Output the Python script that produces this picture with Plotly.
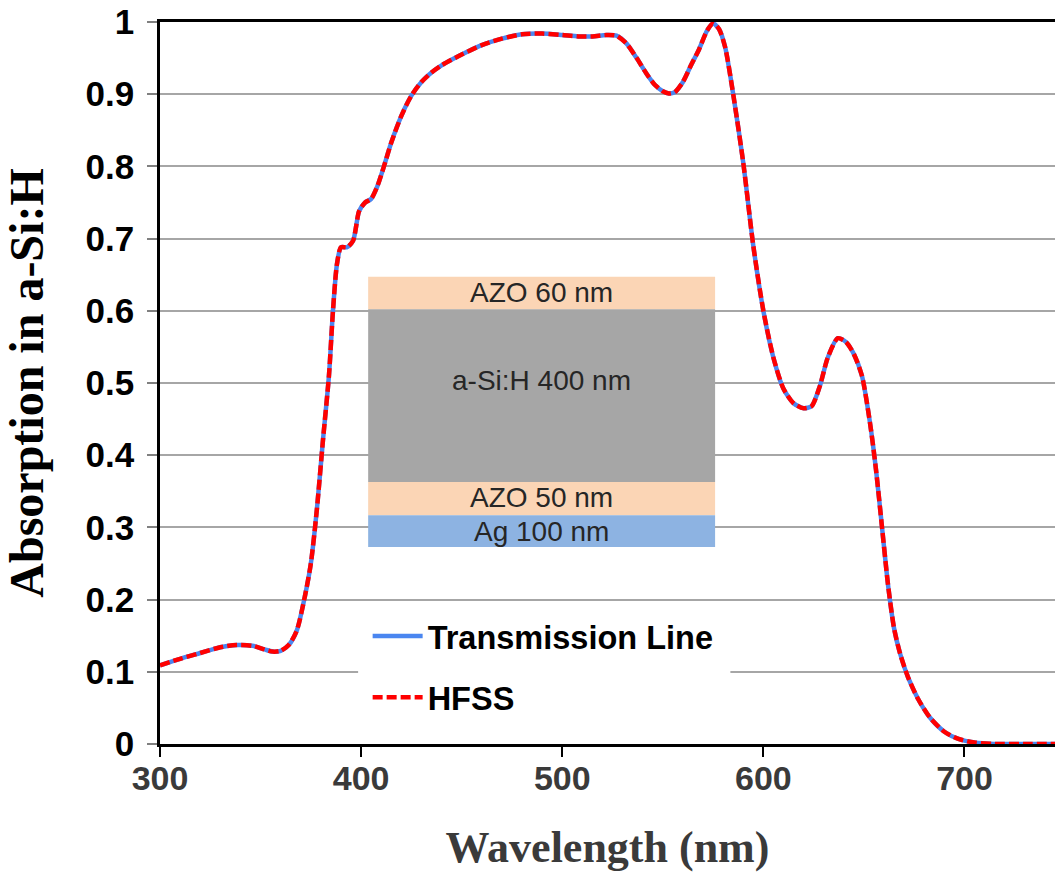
import plotly.graph_objects as go

# Wavelength (nm) and absorption values
wavelength = [300, 310, 320, 330, 338, 346, 352, 356, 360, 364, 368, 372, 375, 378, 381, 384,
              386, 388, 390, 393, 396, 399, 402, 405, 408, 411, 415, 420, 425, 430, 435, 440,
              450, 460, 470, 480, 490, 500, 508, 515, 522, 527, 532, 537, 542, 546, 550, 553,
              556, 560, 564, 568, 572, 575, 578, 581, 585, 590, 595, 600, 605, 610, 615, 620,
              624, 628, 632, 637, 641, 645, 649, 653, 656, 659, 662, 665, 668, 672, 677, 683,
              690, 697, 705, 715, 730, 745]
absorption_tl = [0.109, 0.118, 0.126, 0.134, 0.137, 0.136, 0.131, 0.128, 0.129, 0.137, 0.157, 0.204,
                 0.250, 0.325, 0.420, 0.510, 0.600, 0.665, 0.688, 0.688, 0.697, 0.738, 0.750, 0.755,
                 0.772, 0.797, 0.833, 0.870, 0.898, 0.917, 0.930, 0.940, 0.955, 0.968, 0.977, 0.983,
                 0.984, 0.982, 0.980, 0.980, 0.982, 0.981, 0.970, 0.950, 0.928, 0.913, 0.904, 0.901,
                 0.903, 0.917, 0.940, 0.962, 0.988, 0.998, 0.990, 0.965, 0.900, 0.805, 0.690, 0.600,
                 0.535, 0.492, 0.472, 0.465, 0.468, 0.495, 0.535, 0.562, 0.557, 0.540, 0.510, 0.445,
                 0.380, 0.300, 0.220, 0.160, 0.125, 0.092, 0.062, 0.036, 0.017, 0.007, 0.002, 0.000,
                 0.000, 0.000]
absorption_hfss = list(absorption_tl)

y_ticks = [0, 0.1, 0.2, 0.3, 0.4, 0.5, 0.6, 0.7, 0.8, 0.9, 1]
y_tick_labels = ["0", "0.1", "0.2", "0.3", "0.4", "0.5", "0.6", "0.7", "0.8", "0.9", "1"]
x_ticks = [300, 400, 500, 600, 700]
x_tick_labels = ["300", "400", "500", "600", "700"]

# Inset layer stack (label, top, bottom, label position, colour)
layer_names = ["AZO 60 nm", "a-Si:H 400 nm", "AZO 50 nm", "Ag 100 nm"]
layer_tops = [0.647, 0.602, 0.363, 0.317]
layer_bottoms = [0.602, 0.363, 0.317, 0.273]
layer_label_y = [0.625, 0.503, 0.341, 0.295]
layer_colors = ["#fbd5b5", "#a6a6a6", "#fbd5b5", "#8db3e2"]
inset_x = [403.5, 576.0]

fig = go.Figure()
fig.add_trace(go.Scatter(x=wavelength, y=absorption_tl, mode="lines", name="Transmission Line",
                         legendgroup="a",
                         line=dict(color="#4a86f0", width=4.5, shape="spline", smoothing=0.7)))
fig.add_trace(go.Scatter(x=wavelength, y=absorption_hfss, mode="lines", name="HFSS",
                         legendgroup="b",
                         line=dict(color="#ff0000", width=4.5, dash="10px,4px", shape="spline", smoothing=0.7)))

shapes = []
# white area behind legend hiding the grid line
shapes.append(dict(type="rect", xref="x", yref="y", x0=398.5, x1=583.6, y0=0.01, y1=0.19,
                   fillcolor="white", line=dict(width=0), layer="between"))
annotations = []
for name, top, bot, ly, col in zip(layer_names, layer_tops, layer_bottoms, layer_label_y, layer_colors):
    shapes.append(dict(type="rect", xref="x", yref="y", x0=inset_x[0], x1=inset_x[1], y0=bot, y1=top,
                       fillcolor=col, line=dict(width=0), layer="above"))
    annotations.append(dict(x=(inset_x[0] + inset_x[1]) / 2, y=ly, xref="x", yref="y",
                            text=name, showarrow=False,
                            font=dict(family="Liberation Sans", size=28, color="#262626")))

fig.update_layout(
    width=1055, height=874,
    margin=dict(l=160, r=0, t=22, b=130),
    plot_bgcolor="white", paper_bgcolor="white",
    shapes=shapes, annotations=annotations,
    showlegend=True,
    legend=dict(x=0.232, y=0.188, xanchor="left", yanchor="top", bgcolor="rgba(255,255,255,0)",
                font=dict(family="Liberation Sans", size=32.5, color="black", weight="bold"),
                itemwidth=50, tracegroupgap=16, traceorder="grouped"),
    xaxis=dict(range=[300, 745], tickvals=x_ticks, ticktext=x_tick_labels,
               showgrid=False, zeroline=False, showline=True, linecolor="black", linewidth=2.5,
               mirror=True, ticks="outside", ticklen=10, tickwidth=2, tickcolor="black",
               ticklabelstandoff=-8,
               tickfont=dict(family="Liberation Sans", size=34, color="#3a3a3a", weight="bold"),
               title=dict(text="Wavelength (nm)", standoff=36,
                          font=dict(family="Liberation Serif", size=44, color="#3a3a3a", weight="bold"))),
    yaxis=dict(range=[0, 1], tickvals=y_ticks, ticktext=y_tick_labels,
               showgrid=True, gridcolor="#a6a6a6", gridwidth=2, zeroline=False,
               showline=True, linecolor="black", linewidth=2.5,
               ticks="outside", ticklen=10, tickwidth=2, tickcolor="#808080",
               ticklabelstandoff=6,
               tickfont=dict(family="Liberation Sans", size=35, color="black", weight="bold"),
               title=dict(text="Absorption in a-Si:H", standoff=30,
                          font=dict(family="Liberation Serif", size=48, color="black", weight="bold"))),
)

fig.write_html("out.html")
